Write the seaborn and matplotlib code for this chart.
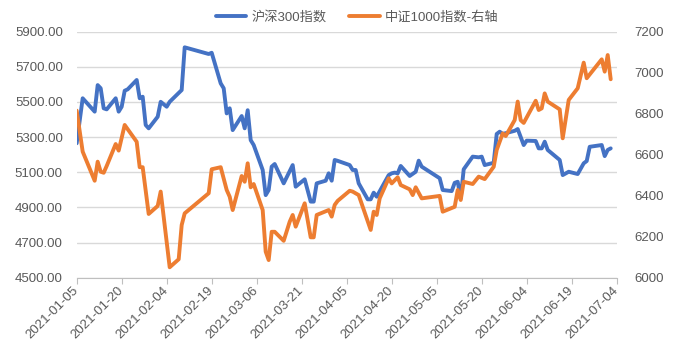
import pandas as pd
import matplotlib
matplotlib.use("Agg")
import matplotlib.pyplot as plt
import matplotlib.dates as mdates
from matplotlib.ticker import FormatStrFormatter, FixedLocator
import seaborn as sns

# 沪深300 (左轴)
hs300_dates = ["2021-01-05", "2021-01-07", "2021-01-11", "2021-01-12", "2021-01-13", "2021-01-14",
               "2021-01-15", "2021-01-18", "2021-01-19", "2021-01-20", "2021-01-21", "2021-01-22",
               "2021-01-25", "2021-01-26", "2021-01-27", "2021-01-28", "2021-01-29", "2021-02-01",
               "2021-02-02", "2021-02-04", "2021-02-05", "2021-02-09", "2021-02-10", "2021-02-18",
               "2021-02-19", "2021-02-22", "2021-02-23", "2021-02-24", "2021-02-25", "2021-02-26",
               "2021-03-01", "2021-03-02", "2021-03-03", "2021-03-04", "2021-03-05", "2021-03-08",
               "2021-03-09", "2021-03-10", "2021-03-11", "2021-03-12", "2021-03-15", "2021-03-18",
               "2021-03-19", "2021-03-22", "2021-03-24", "2021-03-25", "2021-03-26", "2021-03-29",
               "2021-03-30", "2021-03-31", "2021-04-01", "2021-04-02", "2021-04-06", "2021-04-07",
               "2021-04-08", "2021-04-09", "2021-04-12", "2021-04-13", "2021-04-14", "2021-04-15",
               "2021-04-19", "2021-04-20", "2021-04-21", "2021-04-22", "2021-04-23", "2021-04-26",
               "2021-04-28", "2021-04-29", "2021-04-30", "2021-05-06", "2021-05-07", "2021-05-10",
               "2021-05-11", "2021-05-12", "2021-05-13", "2021-05-14", "2021-05-17", "2021-05-19",
               "2021-05-20", "2021-05-21", "2021-05-24", "2021-05-25", "2021-05-26", "2021-05-27",
               "2021-05-31", "2021-06-01", "2021-06-03", "2021-06-04", "2021-06-07", "2021-06-08",
               "2021-06-09", "2021-06-10", "2021-06-11", "2021-06-15", "2021-06-16", "2021-06-18",
               "2021-06-21", "2021-06-23", "2021-06-24", "2021-06-25", "2021-06-29", "2021-06-30",
               "2021-07-01", "2021-07-02"]
hs300_values = [5265, 5521, 5445, 5596, 5578, 5464,
                5458, 5521, 5445, 5473, 5564, 5572,
                5625, 5521, 5530, 5369, 5350, 5416,
                5501, 5473, 5501, 5568, 5811, 5773,
                5780, 5606, 5578, 5435, 5464, 5340,
                5420, 5350, 5453, 5283, 5255, 5113,
                4970, 4999, 5132, 5147, 5037, 5141,
                5018, 5060, 4933, 4933, 5037, 5052,
                5094, 5052, 5170, 5165, 5141, 5113,
                5113, 5037, 4946, 4946, 4984, 4961,
                5084, 5094, 5098, 5094, 5136, 5079,
                5103, 5166, 5132, 5066, 4999, 4993,
                5040, 5046, 4952, 5117, 5189, 5185,
                5189, 5141, 5154, 5318, 5331, 5318,
                5336, 5346, 5255, 5280, 5278, 5236,
                5236, 5274, 5227, 5170, 5084, 5103,
                5090, 5151, 5164, 5245, 5255, 5192,
                5227, 5236]

# 中证1000 (右轴)
zz1000_dates = ["2021-01-05", "2021-01-07", "2021-01-11", "2021-01-12", "2021-01-13", "2021-01-14",
                "2021-01-15", "2021-01-18", "2021-01-19", "2021-01-21", "2021-01-25", "2021-01-26",
                "2021-01-27", "2021-01-29", "2021-02-01", "2021-02-02", "2021-02-05", "2021-02-08",
                "2021-02-09", "2021-02-10", "2021-02-18", "2021-02-19", "2021-02-22", "2021-02-24",
                "2021-02-25", "2021-02-26", "2021-03-01", "2021-03-02", "2021-03-03", "2021-03-04",
                "2021-03-05", "2021-03-08", "2021-03-09", "2021-03-10", "2021-03-11", "2021-03-12",
                "2021-03-15", "2021-03-17", "2021-03-18", "2021-03-19", "2021-03-22", "2021-03-24",
                "2021-03-25", "2021-03-26", "2021-03-30", "2021-03-31", "2021-04-01", "2021-04-02",
                "2021-04-06", "2021-04-07", "2021-04-09", "2021-04-13", "2021-04-14", "2021-04-15",
                "2021-04-16", "2021-04-19", "2021-04-20", "2021-04-22", "2021-04-23", "2021-04-26",
                "2021-04-27", "2021-04-28", "2021-04-30", "2021-05-06", "2021-05-07", "2021-05-11",
                "2021-05-12", "2021-05-13", "2021-05-14", "2021-05-17", "2021-05-19", "2021-05-21",
                "2021-05-24", "2021-05-25", "2021-05-27", "2021-05-28", "2021-05-31", "2021-06-01",
                "2021-06-02", "2021-06-03", "2021-06-07", "2021-06-08", "2021-06-09", "2021-06-10",
                "2021-06-11", "2021-06-15", "2021-06-16", "2021-06-18", "2021-06-21", "2021-06-23",
                "2021-06-24", "2021-06-29", "2021-06-30", "2021-07-01", "2021-07-02"]
zz1000_values = [6815, 6615, 6473, 6566, 6517, 6512,
                 6545, 6652, 6620, 6745, 6663, 6539,
                 6539, 6311, 6350, 6420, 6051, 6090,
                 6257, 6314, 6412, 6529, 6539, 6428,
                 6395, 6330, 6496, 6468, 6558, 6441,
                 6457, 6330, 6127, 6086, 6224, 6224,
                 6180, 6273, 6306, 6249, 6363, 6197,
                 6197, 6306, 6330, 6298, 6355, 6375,
                 6424, 6420, 6403, 6233, 6322, 6306,
                 6387, 6485, 6460, 6490, 6452, 6431,
                 6403, 6441, 6387, 6399, 6322, 6346,
                 6428, 6379, 6468, 6457, 6493, 6481,
                 6541, 6623, 6704, 6691, 6769, 6859,
                 6768, 6755, 6863, 6818, 6826, 6899,
                 6859, 6821, 6680, 6867, 6924, 7049,
                 6973, 7065, 7005, 7086, 6968]

series_names = ["沪深300指数", "中证1000指数-右轴"]
left_ticks = [4500, 4700, 4900, 5100, 5300, 5500, 5700, 5900]
right_ticks = [6000, 6200, 6400, 6600, 6800, 7000, 7200]
xtick_dates = pd.date_range("2021-01-05", "2021-07-04", freq="15D")

blue = "#4472C4"
orange = "#ED7D31"
txt = "#595959"

sns.set_style("white")
plt.rcParams["font.family"] = ["Liberation Sans", "Noto Sans CJK SC"]
plt.rcParams["font.size"] = 9.5

df1 = pd.DataFrame({"date": pd.to_datetime(hs300_dates), "value": hs300_values})
df2 = pd.DataFrame({"date": pd.to_datetime(zz1000_dates), "value": zz1000_values})

fig, ax = plt.subplots(figsize=(6.78, 3.54), dpi=100)
fig.subplots_adjust(left=0.1131, right=0.9096, top=0.9105, bottom=0.2155)
ax2 = ax.twinx()

sns.lineplot(data=df1, x="date", y="value", ax=ax, color=blue, linewidth=2.8, label=series_names[0],
             legend=False, solid_joinstyle="round", solid_capstyle="round")
sns.lineplot(data=df2, x="date", y="value", ax=ax2, color=orange, linewidth=2.8, label=series_names[1],
             legend=False, solid_joinstyle="round", solid_capstyle="round")

ax.set_xlim(pd.Timestamp("2021-01-05"), pd.Timestamp("2021-07-04"))
ax.set_ylim(4500, 5900)
ax2.set_ylim(6000, 7200)
ax.yaxis.set_major_locator(FixedLocator(left_ticks))
ax.yaxis.set_major_formatter(FormatStrFormatter("%.2f"))
ax2.yaxis.set_major_locator(FixedLocator(right_ticks))
ax2.yaxis.set_major_formatter(FormatStrFormatter("%d"))
ax.set_xticks(xtick_dates)
ax.xaxis.set_major_formatter(mdates.DateFormatter("%Y-%m-%d"))

ax.grid(axis="y", color="#D9D9D9", linewidth=1)
ax.grid(axis="x", visible=False)
ax2.grid(False)
ax.set_xlabel("")
ax.set_ylabel("")
ax2.set_ylabel("")

for a in (ax, ax2):
    for s in ("top", "left", "right", "bottom"):
        a.spines[s].set_visible(False)
ax.spines["bottom"].set_visible(True)
ax.spines["bottom"].set_color("#BFBFBF")

ax.tick_params(axis="y", length=0, pad=10, labelcolor=txt, labelsize=9.5)
ax2.tick_params(axis="y", length=0, pad=13, labelcolor=txt, labelsize=9.5)
ax.tick_params(axis="x", length=4, color="#BFBFBF", pad=4, labelcolor=txt, labelsize=9.5, bottom=True)
for lab in ax.get_xticklabels():
    lab.set_rotation(45)
    lab.set_ha("right")
    lab.set_va("center")
    lab.set_rotation_mode("anchor")

handles = [ax.get_lines()[0], ax2.get_lines()[0]]
fig.legend(handles, series_names, loc="center", bbox_to_anchor=(0.527, 0.952), ncol=2, frameon=False,
           handlelength=2.3, handletextpad=0.4, columnspacing=1.7, labelcolor=txt, fontsize=9.5)

fig.savefig("out.png", dpi=100)
